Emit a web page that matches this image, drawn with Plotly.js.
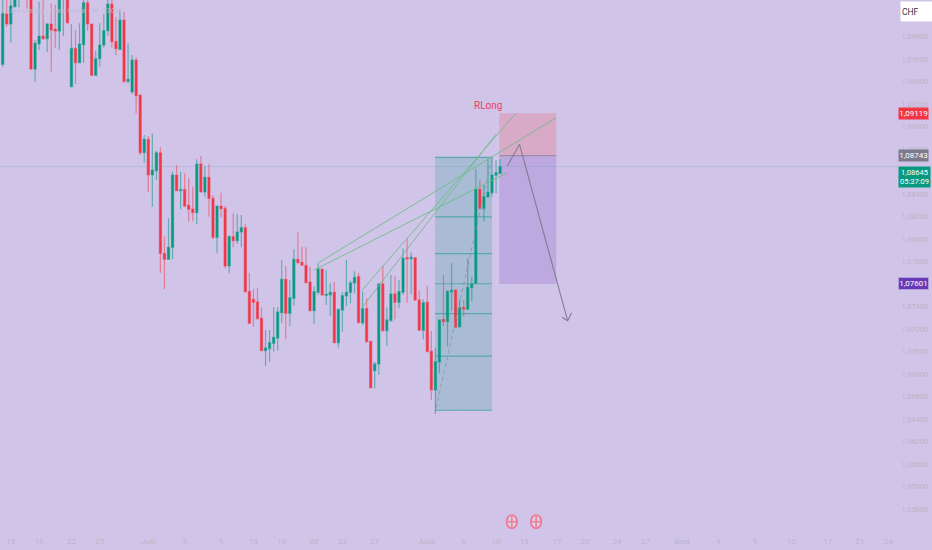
<!DOCTYPE html>
<html><head><meta charset="utf-8">
<script src="https://cdn.plot.ly/plotly-3.0.1.min.js"></script>
<style>html,body{margin:0;padding:0;background:#d1c4e9}#c{width:932px;height:550px}</style>
</head><body><div id="c"></div>
<script>
// GBP/CHF candles (prices)
const opens=[1.09554,1.10002,1.09913,1.10067,1.10200,1.10260,1.10280,1.10150,1.09512,1.09735,1.09806,1.09782,1.09913,1.09868,1.09850,1.10140,1.10260,1.09355,1.09696,1.09569,1.09729,1.10102,1.09913,1.09456,1.09604,1.09726,1.09853,1.10090,1.09758,1.09687,1.09948,1.09403,1.09308,1.09592,1.09281,1.08768,1.08887,1.08570,1.08608,1.08768,1.07873,1.07820,1.07927,1.08570,1.08431,1.08442,1.08300,1.08268,1.08235,1.08668,1.08419,1.08549,1.08362,1.08016,1.08294,1.08273,1.07761,1.08022,1.07986,1.08063,1.08102,1.07535,1.07464,1.07441,1.07295,1.07008,1.07026,1.07073,1.07120,1.07346,1.07642,1.07340,1.07473,1.07820,1.07793,1.07767,1.07618,1.07363,1.07527,1.07734,1.07500,1.07503,1.07527,1.07079,1.07369,1.07494,1.07527,1.07610,1.07666,1.07257,1.07382,1.07091,1.06830,1.06890,1.07601,1.07186,1.07275,1.07512,1.07438,1.07527,1.07835,1.07826,1.07835,1.07459,1.07189,1.07438,1.07002,1.06658,1.06907,1.07287,1.07266,1.07530,1.07548,1.07219,1.07393,1.07376,1.07568,1.07607,1.08443,1.08271,1.08375,1.08413,1.08567,1.08585];
const highs=[1.10130,1.10140,1.10130,1.10250,1.10300,1.10340,1.10320,1.10200,1.09770,1.10111,1.10130,1.09924,1.10096,1.10082,1.10200,1.10300,1.10300,1.09910,1.09859,1.09919,1.10130,1.10140,1.09913,1.09675,1.09919,1.10002,1.10130,1.10130,1.09972,1.10037,1.10022,1.09741,1.09637,1.09616,1.09281,1.08926,1.08917,1.08940,1.08786,1.08816,1.08022,1.08185,1.08600,1.08659,1.08600,1.08585,1.08540,1.08466,1.08709,1.08739,1.08650,1.08668,1.08392,1.08294,1.08413,1.08294,1.08036,1.08229,1.08223,1.08214,1.08134,1.07701,1.07553,1.07562,1.07393,1.07192,1.07192,1.07393,1.07393,1.07814,1.07761,1.07636,1.07909,1.08066,1.07933,1.07927,1.07755,1.07583,1.07784,1.07734,1.07725,1.07607,1.07618,1.07381,1.07532,1.07814,1.07630,1.07713,1.07701,1.07533,1.07473,1.07097,1.06910,1.07607,1.07761,1.07393,1.07681,1.07672,1.07636,1.07918,1.08007,1.07880,1.07835,1.07542,1.07465,1.07586,1.07183,1.07029,1.07287,1.07681,1.07548,1.07785,1.07553,1.07468,1.07459,1.07829,1.07666,1.08621,1.08526,1.08481,1.08709,1.08733,1.08704,1.08709];
const lows=[1.09533,1.09889,1.09747,1.10060,1.10061,1.10200,1.10052,1.09505,1.09400,1.09681,1.09776,1.09661,1.09489,1.09702,1.09681,1.09806,1.09915,1.09349,1.09379,1.09563,1.09569,1.09853,1.09450,1.09450,1.09533,1.09702,1.09806,1.09702,1.09634,1.09681,1.09385,1.09385,1.09290,1.09118,1.08748,1.08680,1.08422,1.08288,1.08525,1.07701,1.07553,1.07814,1.07820,1.08425,1.08265,1.08282,1.08155,1.08164,1.08134,1.08413,1.08377,1.08199,1.07998,1.07879,1.08193,1.07740,1.07696,1.07927,1.07956,1.07927,1.07524,1.07245,1.07221,1.07286,1.07002,1.06872,1.06910,1.06999,1.07008,1.07251,1.07109,1.07227,1.07405,1.07784,1.07761,1.07607,1.07358,1.07245,1.07506,1.07497,1.07414,1.07316,1.07073,1.07037,1.07177,1.07405,1.07429,1.07518,1.07251,1.07236,1.07079,1.06673,1.06673,1.06792,1.07177,1.07050,1.07266,1.07287,1.07385,1.07503,1.07435,1.07512,1.07450,1.07183,1.07109,1.06993,1.06569,1.06445,1.06807,1.07227,1.07044,1.07364,1.07212,1.07216,1.07310,1.07370,1.07450,1.07601,1.08265,1.08155,1.08372,1.08378,1.08407,1.08585];
const closes=[1.10007,1.09913,1.10073,1.10190,1.10260,1.10300,1.10150,1.09512,1.09741,1.09806,1.09782,1.09913,1.09859,1.09850,1.10135,1.10260,1.09924,1.09696,1.09569,1.09735,1.10102,1.09913,1.09456,1.09604,1.09726,1.09853,1.10090,1.09755,1.09693,1.09948,1.09403,1.09421,1.09592,1.09275,1.08768,1.08887,1.08570,1.08614,1.08768,1.07873,1.07820,1.07927,1.08570,1.08431,1.08442,1.08294,1.08265,1.08235,1.08668,1.08419,1.08549,1.08362,1.08016,1.08294,1.08270,1.07761,1.08022,1.07986,1.08063,1.08102,1.07532,1.07251,1.07438,1.07292,1.07008,1.07032,1.07079,1.07126,1.07352,1.07642,1.07340,1.07479,1.07820,1.07790,1.07767,1.07612,1.07363,1.07532,1.07734,1.07503,1.07509,1.07527,1.07079,1.07375,1.07497,1.07527,1.07610,1.07660,1.07257,1.07382,1.07088,1.06676,1.06890,1.07601,1.07186,1.07281,1.07512,1.07438,1.07533,1.07829,1.07823,1.07838,1.07459,1.07189,1.07435,1.07000,1.06658,1.06910,1.07281,1.07266,1.07533,1.07545,1.07216,1.07390,1.07376,1.07571,1.07601,1.08443,1.08271,1.08378,1.08416,1.08570,1.08591,1.08645];
const barIndex=opens.map((_,i)=>i);

// axis labels
const xTickBars=[2,9,17,24,36,45,54,62,69,77,84,92,105,114,122,129,137,144,152,159,168,177,186,195,204,212,219];
const xTickText=['15','18','22','25','Juill','4','9','13','16','20','23','27','Août','6','10','13','17','20','24','27','Sept','4','9','12','17','21','24'];
const yTickVals=[1.098,1.096,1.094,1.092,1.090,1.088,1.084,1.082,1.080,1.078,1.074,1.072,1.070,1.068,1.066,1.064,1.062,1.060,1.058,1.056];
const yTickText=['1,09800','1,09600','1,09400','1,09200','1,09000','1,08800','1,08400','1,08200','1,08000','1,07800','1,07400','1,07200','1,07000','1,06800','1,06600','1,06400','1,06200','1,06000','1,05800','1,05600'];

// drawings
const lastPrice=1.08645, targetPrice=1.09119, entryPrice=1.08743, stopPrice=1.07601;
const fibBars=[106.9,121.0];
const fibLevels=[1.08727,1.08197,1.07870,1.07603,1.07337,1.06960,1.06478];
const positionBars=[122.8,136.9];
const trendLines=[
  {x:[77.9,136.9],y:[1.07785,1.09080]},
  {x:[77.0,124.8],y:[1.07725,1.08591]},
  {x:[88.9,126.9],y:[1.07547,1.09119]},
  {x:[88.9,122.0],y:[1.07394,1.08935]}];
const dashX=[107.2,121.0], dashY=[1.06498,1.08730];
const arrowX=[124.8,127.8,139.7], arrowY=[1.08650,1.08843,1.07274];
const headX=[138.3,139.7,140.7], headY=[1.07305,1.07274,1.07346];
const eventBars=[125.9,131.9], eventPrice=1.05487;

const BG='#d1c4e9', GREEN='#089981', RED='#f23645', TXT='#bab4c8';
const FONT='"Liberation Sans Narrow","Roboto",sans-serif';

const traces=[];
traces.push({type:'candlestick',x:barIndex,open:opens,high:highs,low:lows,close:closes,whiskerwidth:0,
  increasing:{line:{color:'rgba(8,153,129,0.55)',width:1.2},fillcolor:GREEN},
  decreasing:{line:{color:'rgba(242,54,69,0.5)',width:1.2},fillcolor:RED},hoverinfo:'skip',showlegend:false});
traces.push({type:'scatter',mode:'lines',x:[-1,222],y:[lastPrice,lastPrice],line:{color:'rgba(90,170,190,0.55)',width:1,dash:'1px,1px'},hoverinfo:'skip'});
trendLines.forEach(t=>traces.push({type:'scatter',mode:'lines',x:t.x,y:t.y,line:{color:'rgba(105,188,135,0.85)',width:1},hoverinfo:'skip'}));
traces.push({type:'scatter',mode:'lines',x:dashX,y:dashY,line:{color:'rgba(140,140,150,0.75)',width:1,dash:'4px,3px'},hoverinfo:'skip'});
traces.push({type:'scatter',mode:'lines',x:arrowX,y:arrowY,line:{color:'rgba(125,115,140,0.9)',width:1.1},hoverinfo:'skip'});
traces.push({type:'scatter',mode:'lines',x:headX,y:headY,line:{color:'rgba(125,115,140,0.9)',width:1.1},hoverinfo:'skip'});

const shapes=[];
shapes.push({type:'rect',layer:'between',xref:'x',yref:'y',x0:fibBars[0],x1:fibBars[1],y0:fibLevels[0],y1:fibLevels[6],fillcolor:'#aabcd5',line:{width:0}});
fibLevels.forEach(l=>shapes.push({type:'line',layer:'between',xref:'x',yref:'y',x0:fibBars[0],x1:fibBars[1],y0:l,y1:l,line:{color:'#5aa8ab',width:1.2}}));
shapes.push({type:'rect',layer:'between',xref:'x',yref:'y',x0:positionBars[0],x1:positionBars[1],y0:entryPrice,y1:targetPrice,fillcolor:'#d9a9c8',line:{width:0}});
shapes.push({type:'rect',layer:'between',xref:'x',yref:'y',x0:positionBars[0],x1:positionBars[1],y0:stopPrice,y1:entryPrice,fillcolor:'#bda9e0',line:{width:0}});
shapes.push({type:'line',layer:'between',xref:'x',yref:'y',x0:positionBars[0],x1:positionBars[1],y0:entryPrice,y1:entryPrice,line:{color:'#9c8ea8',width:1.2}});
eventBars.forEach(b=>{
  shapes.push({type:'circle',xref:'x',yref:'y',x0:b-1.5,x1:b+1.5,y0:eventPrice-0.00067,y1:eventPrice+0.00067,fillcolor:'#ee7a96',line:{width:0}});
  shapes.push({type:'circle',xref:'x',yref:'y',x0:b-1.05,x1:b+1.05,y0:eventPrice-0.00052,y1:eventPrice+0.00052,fillcolor:'#dcd0e6',line:{width:0}});
  shapes.push({type:'line',xref:'x',yref:'y',x0:b-1.05,x1:b+1.05,y0:eventPrice,y1:eventPrice,line:{color:'#ee7a96',width:1.5}});
  shapes.push({type:'line',xref:'x',yref:'y',x0:b,x1:b,y0:eventPrice-0.00052,y1:eventPrice+0.00052,line:{color:'#ee7a96',width:1.5}});
  traces.push({type:'scatter',mode:'markers',x:[b-0.5,b+0.5,b-0.5,b+0.5],y:[eventPrice+0.00033,eventPrice+0.00033,eventPrice-0.00033,eventPrice-0.00033],marker:{symbol:'square',size:2.5,color:'#3aa6a0'},hoverinfo:'skip'});
});

function tag(y,text,bg,h,extra){
  return Object.assign({xref:'paper',x:1,xanchor:'left',xshift:0,yref:'y',y:y,yanchor:'middle',text:text,showarrow:false,
    bgcolor:bg,width:29,height:h,borderpad:0,font:{family:FONT,size:8,color:'#ffffff'},align:'center'},extra||{});
}
const annotations=[
  {xref:'paper',yref:'paper',x:5/898,y:1-11/535,xanchor:'left',yanchor:'middle',showarrow:false,
   text:'Livre sterling / Franc suisse · 8h · FXCM',font:{family:FONT,size:6.5,color:'#c3bcd0'}},
  {xref:'x',yref:'y',x:120.1,y:1.09184,xanchor:'center',yanchor:'middle',showarrow:false,text:'RLong',
   font:{family:FONT,size:10,color:'#f0405a'}},
  tag(targetPrice,'1,09119',RED,11),
  tag(entryPrice,'1,08743','#7b7b8c',11),
  tag(1.08555,'1,08645<br>05:37:09',GREEN,20,{width:31,font:{family:FONT,size:7.5,color:'#ffffff'}}),
  tag(stopPrice,'1,07601','#673ab7',11,{bordercolor:'#b39ddb',borderwidth:1}),
  {xref:'paper',yref:'paper',x:1,xshift:2,y:1-11.5/535,xanchor:'left',yanchor:'middle',showarrow:false,text:'CHF',align:'left',
   bgcolor:'#ffffff',width:30,height:17,font:{family:FONT,size:8.5,color:'#333344'}}
];

const layout={width:932,height:550,autosize:false,paper_bgcolor:BG,plot_bgcolor:BG,
  margin:{l:0,r:34,t:0,b:15,pad:0},showlegend:false,boxgap:0.25,
  font:{family:FONT,size:8,color:TXT},
  xaxis:{type:'linear',range:[-0.668,221.4],tickmode:'array',tickvals:xTickBars,ticktext:xTickText,
    showgrid:true,gridcolor:'rgba(214,203,236,0.4)',gridwidth:1,zeroline:false,showline:false,ticks:'',tickfont:{family:FONT,size:8,color:TXT},
    rangeslider:{visible:false},fixedrange:true},
  yaxis:{type:'linear',side:'right',range:[1.053685,1.101263],tickmode:'array',tickvals:yTickVals,ticktext:yTickText,
    showgrid:true,gridcolor:'rgba(214,203,236,0.4)',gridwidth:1,zeroline:false,showline:false,ticks:'outside',ticklen:1,tickcolor:'rgba(0,0,0,0)',
    tickfont:{family:FONT,size:7.5,color:TXT},fixedrange:true},
  shapes:shapes,annotations:annotations};
Plotly.newPlot('c',traces,layout,{staticPlot:true,displayModeBar:false});
</script></body></html>
